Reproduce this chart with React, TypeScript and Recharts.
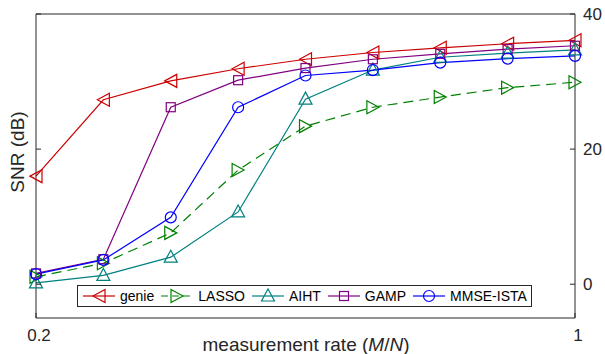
import React from 'react'
import { LineChart, Line, XAxis, YAxis, Legend, ReferenceLine } from 'recharts'

const rates = [0.2, 0.3, 0.4, 0.5, 0.6, 0.7, 0.8, 0.9, 1.0]
const genie = [16.0, 27.3, 30.1, 31.9, 33.3, 34.3, 35.0, 35.6, 36.1]
const lasso = [1.1, 3.1, 7.6, 16.9, 23.4, 26.2, 27.7, 29.1, 29.9]
const aiht = [0.2, 1.3, 4.0, 10.7, 27.4, 31.7, 33.6, 34.2, 34.7]
const gamp = [1.6, 3.7, 26.2, 30.2, 32.0, 33.3, 34.1, 34.8, 35.3]
const mmse = [1.5, 3.6, 9.9, 26.2, 30.9, 31.7, 32.8, 33.4, 33.8]

const xTicks = [0.2, 1]
const yTicks = [0, 20, 40]

const AXIS = '#262626'
const FONT = '"Liberation Sans", Arial, Helvetica, sans-serif'

// genie sits on the right axis so that axis gets ticks; both axes share the same domain
const series = [
  { key: 'genie', name: 'genie', color: '#cc0000', marker: 'left', dash: undefined, axis: 'right' },
  { key: 'lasso', name: 'LASSO', color: '#008000', marker: 'right', dash: '10 6', axis: 'left' },
  { key: 'aiht', name: 'AIHT', color: '#008080', marker: 'up', dash: undefined, axis: 'left' },
  { key: 'gamp', name: 'GAMP', color: '#800080', marker: 'square', dash: undefined, axis: 'left' },
  { key: 'mmse', name: 'MMSE-ISTA', color: '#0000ff', marker: 'circle', dash: undefined, axis: 'left' },
]

const data = rates.map((rate, i) => ({
  rate,
  genie: genie[i],
  lasso: lasso[i],
  aiht: aiht[i],
  gamp: gamp[i],
  mmse: mmse[i],
}))

function Marker({ kind, cx, cy, color }: { kind: string; cx: number; cy: number; color: string }) {
  const p = { fill: 'none', stroke: color, strokeWidth: 1.2 }
  if (kind === 'left') return <polygon {...p} points={`${cx - 6},${cy} ${cx + 6},${cy - 6.5} ${cx + 6},${cy + 6.5}`} />
  if (kind === 'right') return <polygon {...p} points={`${cx + 6},${cy} ${cx - 6},${cy - 6.5} ${cx - 6},${cy + 6.5}`} />
  if (kind === 'up') return <polygon {...p} points={`${cx},${cy - 7} ${cx - 6.5},${cy + 5} ${cx + 6.5},${cy + 5}`} />
  if (kind === 'square') return <rect {...p} x={cx - 4.5} y={cy - 4.5} width={9} height={9} />
  return <circle {...p} cx={cx} cy={cy} r={5.5} />
}

const dotFor = (kind: string, color: string) => (props: any) => (
  <Marker key={`${kind}-${props.index}`} kind={kind} cx={props.cx} cy={props.cy} color={color} />
)

const LeftTick = ({ x, y }: any) => <line x1={x} x2={x + 5} y1={y} y2={y} stroke={AXIS} />

const RightTick = ({ x, y, payload }: any) => (
  <g>
    <line x1={x} x2={x - 5} y1={y} y2={y} stroke={AXIS} />
    <text x={x + 8} y={y} dy={6} fontSize={17} fill={AXIS} fontFamily={FONT}>{payload.value}</text>
  </g>
)

const BottomTick = ({ x, y, payload }: any) => (
  <g>
    <line x1={x} x2={x} y1={y} y2={y - 5} stroke={AXIS} />
    <text x={x + 3} y={y + 23} textAnchor="middle" fontSize={17} fill={AXIS} fontFamily={FONT}>{payload.value}</text>
  </g>
)

const renderLegend = () => (
  <div
    style={{
      display: 'inline-flex',
      alignItems: 'center',
      border: `1px solid ${AXIS}`,
      background: '#fff',
      height: 20,
      padding: '0 4px 0 5px',
      fontSize: 14,
      fontFamily: FONT,
      color: '#000',
    }}
  >
    {series.map((s, i) => (
      <div key={s.key} style={{ display: 'flex', alignItems: 'center', marginRight: i < series.length - 1 ? 7 : 0 }}>
        <svg width={32} height={20}>
          <line x1={0} x2={32} y1={10} y2={10} stroke={s.color} strokeWidth={1.2} strokeDasharray={s.dash ? '7 4' : undefined} />
          <Marker kind={s.marker} cx={16} cy={10} color={s.color} />
        </svg>
        <span style={{ marginLeft: 5 }}>{s.name}</span>
      </div>
    ))}
  </div>
)

export default function App() {
  return (
    <div style={{ position: 'absolute', left: 0, top: 0, background: '#fff', fontFamily: FONT }}>
      <LineChart width={605} height={354} data={data} margin={{ top: 14, right: 0, bottom: 0, left: 0 }}>
        <XAxis
          dataKey="rate"
          type="number"
          domain={[0.2, 1]}
          ticks={xTicks}
          height={36}
          tickSize={0}
          tickMargin={0}
          tick={BottomTick}
          axisLine={{ stroke: AXIS }}
          label={{
            content: () => (
              <text x={306} y={351} textAnchor="middle" fontSize={19} fill={AXIS} fontFamily={FONT}>
                measurement rate (<tspan fontStyle="italic">M</tspan>/<tspan fontStyle="italic">N</tspan>)
              </text>
            ),
          }}
        />
        <YAxis
          yAxisId="left"
          type="number"
          domain={[-5, 40]}
          ticks={yTicks}
          width={36}
          tickSize={0}
          tickMargin={0}
          tick={LeftTick}
          axisLine={{ stroke: AXIS }}
          label={{
            content: () => (
              <text x={23.5} y={152} transform="rotate(-90 23.5 152)" textAnchor="middle" fontSize={19} fill={AXIS} fontFamily={FONT}>
                SNR (dB)
              </text>
            ),
          }}
        />
        <YAxis
          yAxisId="right"
          orientation="right"
          type="number"
          domain={[-5, 40]}
          ticks={yTicks}
          width={30}
          tickSize={0}
          tickMargin={0}
          tick={RightTick}
          axisLine={{ stroke: AXIS }}
        />
        <ReferenceLine yAxisId="left" y={40} stroke={AXIS} />
        {series.map((s) => (
          <Line
            key={s.key}
            yAxisId={s.axis}
            type="linear"
            dataKey={s.key}
            name={s.name}
            stroke={s.color}
            strokeWidth={1.2}
            strokeDasharray={s.dash}
            dot={dotFor(s.marker, s.color)}
            activeDot={false}
            isAnimationActive={false}
          />
        ))}
        <Legend
          verticalAlign="middle"
          layout="horizontal"
          content={renderLegend}
          wrapperStyle={{ left: 77, top: 285, width: 'auto' }}
        />
      </LineChart>
    </div>
  )
}
